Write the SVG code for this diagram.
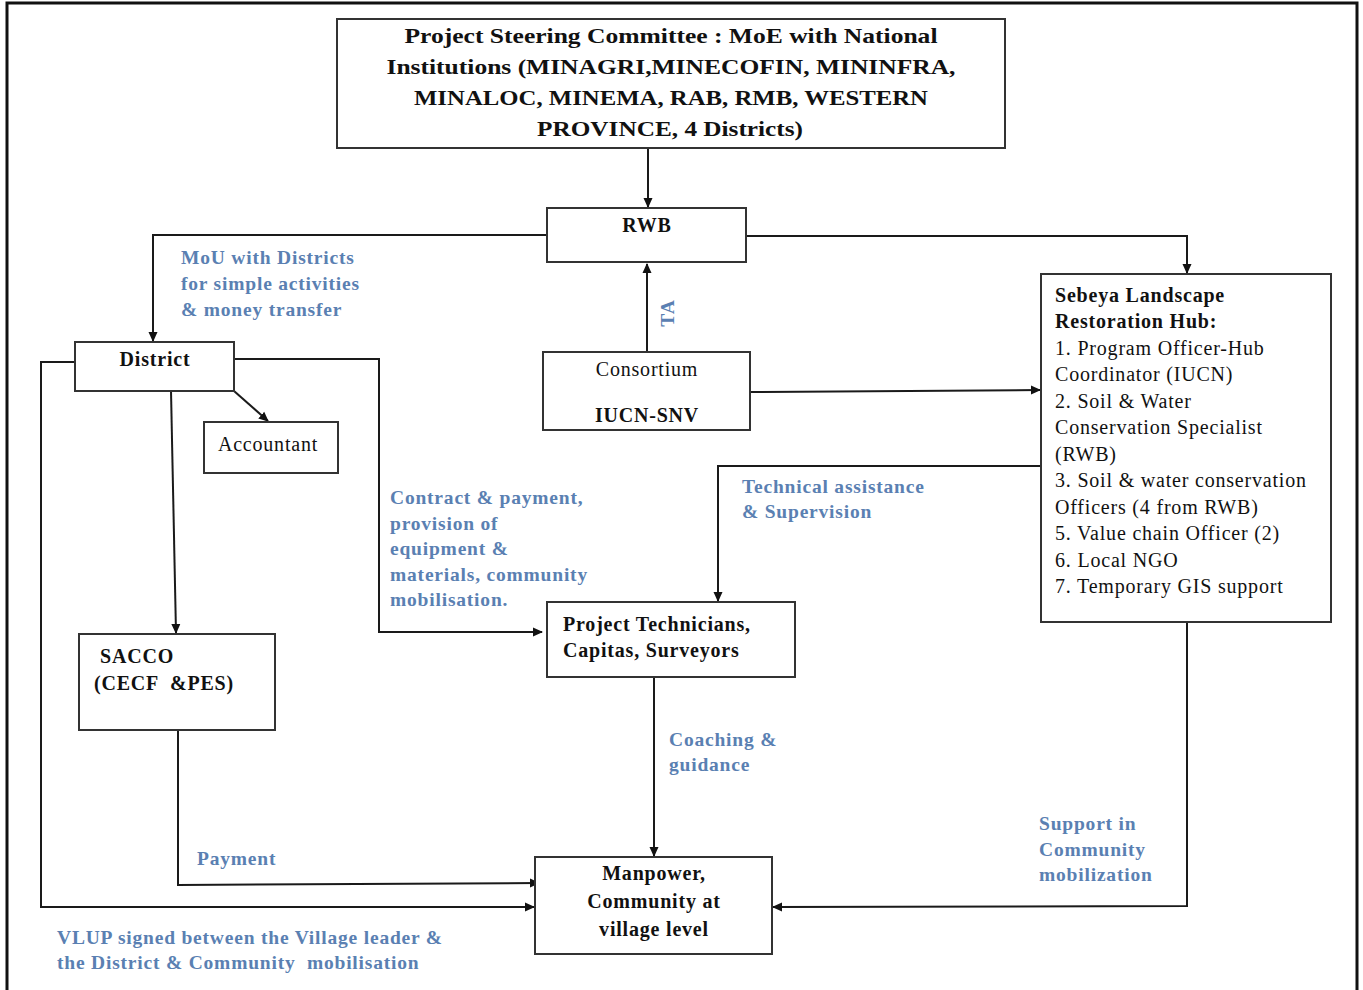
<svg xmlns="http://www.w3.org/2000/svg" width="1363" height="990" viewBox="0 0 1363 990">
<defs>
<marker id="ah" markerWidth="10" markerHeight="10" refX="9" refY="5" orient="auto" markerUnits="userSpaceOnUse">
<path d="M0,0.5 L10,5 L0,9.5 Z" fill="#111"/>
</marker>
<style>
.box{fill:#fff;stroke:#333;stroke-width:2}
.t{font-family:"Liberation Serif",serif;fill:#111}
.b{font-weight:bold}
.big{font-size:22px}
.m{font-size:20px;letter-spacing:0.8px}
.lbl{font-family:"Liberation Serif",serif;font-weight:bold;font-size:19.5px;letter-spacing:0.8px;fill:#5a80b2}
.c{fill:none;stroke:#1a1a1a;stroke-width:2}
</style>
</defs>
<rect width="1363" height="990" fill="#fff"/>
<path d="M7,995 L7,3 L1357,3 L1357,995" fill="none" stroke="#111" stroke-width="3"/>

<g id="connectors">
<path class="c" d="M648,148 L648,207" marker-end="url(#ah)"/>
<path class="c" d="M547,235 L153,235 L153,341" marker-end="url(#ah)"/>
<path class="c" d="M746,236 L1187,236 L1187,273" marker-end="url(#ah)"/>
<path class="c" d="M647,352 L647,264" marker-end="url(#ah)"/>
<path class="c" d="M750,392 L1040,390" marker-end="url(#ah)"/>
<path class="c" d="M1041,466 L718,466 L718,601" marker-end="url(#ah)"/>
<path class="c" d="M75,362 L41,362 L41,907 L534,907" marker-end="url(#ah)"/>
<path class="c" d="M234,359 L379,359 L379,632 L542,632" marker-end="url(#ah)"/>
<path class="c" d="M171,391 L176,633" marker-end="url(#ah)"/>
<path class="c" d="M234,391 L268,421" marker-end="url(#ah)"/>
<path class="c" d="M178,730 L178,885 L539,883" marker-end="url(#ah)"/>
<path class="c" d="M654,677 L654,856" marker-end="url(#ah)"/>
<path class="c" d="M1187,622 L1187,906 L773,907" marker-end="url(#ah)"/>
</g>

<g id="psc">
<rect class="box" x="337" y="19" width="668" height="129"/>
<text class="t b big" text-anchor="middle" x="671" y="43" textLength="533" lengthAdjust="spacingAndGlyphs">Project Steering Committee : MoE with National</text>
<text class="t b big" text-anchor="middle" x="671" y="74" textLength="569" lengthAdjust="spacingAndGlyphs">Institutions (MINAGRI,MINECOFIN, MININFRA,</text>
<text class="t b big" text-anchor="middle" x="671" y="105" textLength="514" lengthAdjust="spacingAndGlyphs">MINALOC, MINEMA, RAB, RMB, WESTERN</text>
<text class="t b big" text-anchor="middle" x="670" y="136" textLength="266" lengthAdjust="spacingAndGlyphs">PROVINCE, 4 Districts)</text>
</g>

<g id="rwb">
<rect class="box" x="547" y="208" width="199" height="54"/>
<text class="t b m" text-anchor="middle" x="647" y="232">RWB</text>
</g>

<g id="consortium">
<rect class="box" x="543" y="352" width="207" height="78"/>
<text class="t m" text-anchor="middle" x="647" y="376">Consortium</text>
<text class="t b m" text-anchor="middle" x="647" y="422">IUCN-SNV</text>
</g>

<g id="hub">
<rect class="box" x="1041" y="274" width="290" height="348"/>
<text class="t b m" x="1055" y="302">Sebeya Landscape</text>
<text class="t b m" x="1055" y="328">Restoration Hub:</text>
<text class="t m" x="1055" y="355">1. Program Officer-Hub</text>
<text class="t m" x="1055" y="381">Coordinator (IUCN)</text>
<text class="t m" x="1055" y="408">2. Soil &amp; Water</text>
<text class="t m" x="1055" y="434">Conservation Specialist</text>
<text class="t m" x="1055" y="461">(RWB)</text>
<text class="t m" x="1055" y="487">3. Soil &amp; water conservation</text>
<text class="t m" x="1055" y="514">Officers (4 from RWB)</text>
<text class="t m" x="1055" y="540">5. Value chain Officer (2)</text>
<text class="t m" x="1055" y="567">6. Local NGO</text>
<text class="t m" x="1055" y="593">7. Temporary GIS support</text>
</g>

<g id="district">
<rect class="box" x="75" y="342" width="159" height="49"/>
<text class="t b m" text-anchor="middle" x="155" y="366">District</text>
</g>

<g id="accountant">
<rect class="box" x="204" y="422" width="134" height="51"/>
<text class="t m" text-anchor="middle" x="268" y="451">Accountant</text>
</g>

<g id="sacco">
<rect class="box" x="79" y="634" width="196" height="96"/>
<text class="t b m" x="100" y="663">SACCO</text>
<text class="t b m" x="94" y="690">(CECF &#160;&amp;PES)</text>
</g>

<g id="technicians">
<rect class="box" x="547" y="602" width="248" height="75"/>
<text class="t b m" x="563" y="631">Project Technicians,</text>
<text class="t b m" x="563" y="657">Capitas, Surveyors</text>
</g>

<g id="manpower">
<rect class="box" x="535" y="857" width="237" height="97"/>
<text class="t b m" text-anchor="middle" x="654" y="880">Manpower,</text>
<text class="t b m" text-anchor="middle" x="654" y="908">Community at</text>
<text class="t b m" text-anchor="middle" x="654" y="936">village level</text>
</g>

<g id="labels">
<text class="lbl" x="181" y="264">MoU with Districts</text>
<text class="lbl" x="181" y="290">for simple activities</text>
<text class="lbl" x="181" y="316">&amp; money transfer</text>
<text class="lbl" transform="translate(674,313) rotate(-90)" text-anchor="middle">TA</text>
<text class="lbl" x="390" y="504">Contract &amp; payment,</text>
<text class="lbl" x="390" y="530">provision of</text>
<text class="lbl" x="390" y="555">equipment &amp;</text>
<text class="lbl" x="390" y="581">materials, community</text>
<text class="lbl" x="390" y="606">mobilisation.</text>
<text class="lbl" x="742" y="493">Technical assistance</text>
<text class="lbl" x="742" y="518">&amp; Supervision</text>
<text class="lbl" x="669" y="746">Coaching &amp;</text>
<text class="lbl" x="669" y="771">guidance</text>
<text class="lbl" x="197" y="865">Payment</text>
<text class="lbl" x="1039" y="830">Support in</text>
<text class="lbl" x="1039" y="856">Community</text>
<text class="lbl" x="1039" y="881">mobilization</text>
<text class="lbl" x="57" y="944">VLUP signed between the Village leader &amp;</text>
<text class="lbl" x="57" y="969">the District &amp; Community &#160;mobilisation</text>
</g>
</svg>
